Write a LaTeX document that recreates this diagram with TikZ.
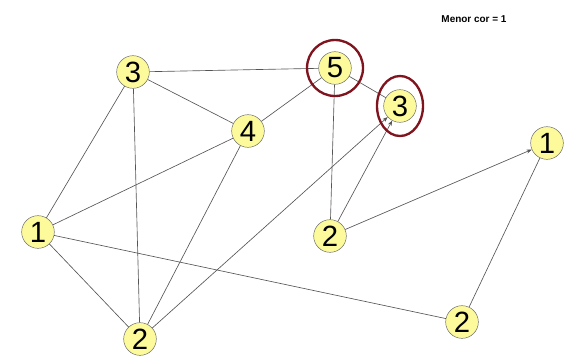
\documentclass[tikz,border=0pt]{standalone}
\usepackage{fontspec}
\setmainfont{Liberation Sans}
\usetikzlibrary{arrows.meta}
\definecolor{vfill}{RGB}{252,250,155}
\definecolor{vedge}{RGB}{85,85,85}
\definecolor{mark}{RGB}{128,20,30}
\tikzset{
    vert/.style={circle, draw=vedge!90, fill=vfill, inner sep=0pt, minimum size=0.98cm, font=\fontsize{25}{25}\selectfont},
    link/.style={draw=vedge, line width=0.55pt},
    tip/.style={link, -{Stealth[length=1.6mm,width=1.2mm]}},
    hilite/.style={draw=mark, line width=2pt}
}
\begin{document}
\begin{tikzpicture}[x=0.03cm, y=-0.03cm]
        \useasboundingbox (0,0) rectangle (564,358);
        % vertices and their colours
        \node[vert] (a) at (133,72) {3};
        \node[vert] (b) at (335,68) {5};
        \node[vert] (c) at (400,106) {3};
        \node[vert] (d) at (248,131) {4};
        \node[vert] (e) at (547,143) {1};
        \node[vert] (f) at (38,232) {1};
        \node[vert] (g) at (330,236) {2};
        \node[vert] (h) at (140,339) {2};
        \node[vert] (i) at (462,322) {2};
        % edges
        \draw[link] (a) -- (b);
        \draw[link] (a) -- (d);
        \draw[link] (a) -- (f);
        \draw[link] (a) -- (h);
        \draw[link] (d) -- (b);
        \draw[link] (d) -- (f);
        \draw[link] (d) -- (h);
        \draw[link] (b) -- (c);
        \draw[link] (b) -- (g);
        \draw[tip] (g) -- (c);
        \draw[tip] (h) -- (c);
        \draw[link] (f) -- (h);
        \draw[link] (f) -- (i);
        \draw[tip] (g) -- (e);
        \draw[link] (i) -- (e);
        % the two highest colours
        \draw[hilite] (b) ellipse (28 and 28);
        \draw[hilite] (c) ellipse (23 and 30);
        \node[font=\bfseries\fontsize{8.5}{8.5}\selectfont] (note) at (474,19) {Menor cor = 1};
\end{tikzpicture}
\end{document}
